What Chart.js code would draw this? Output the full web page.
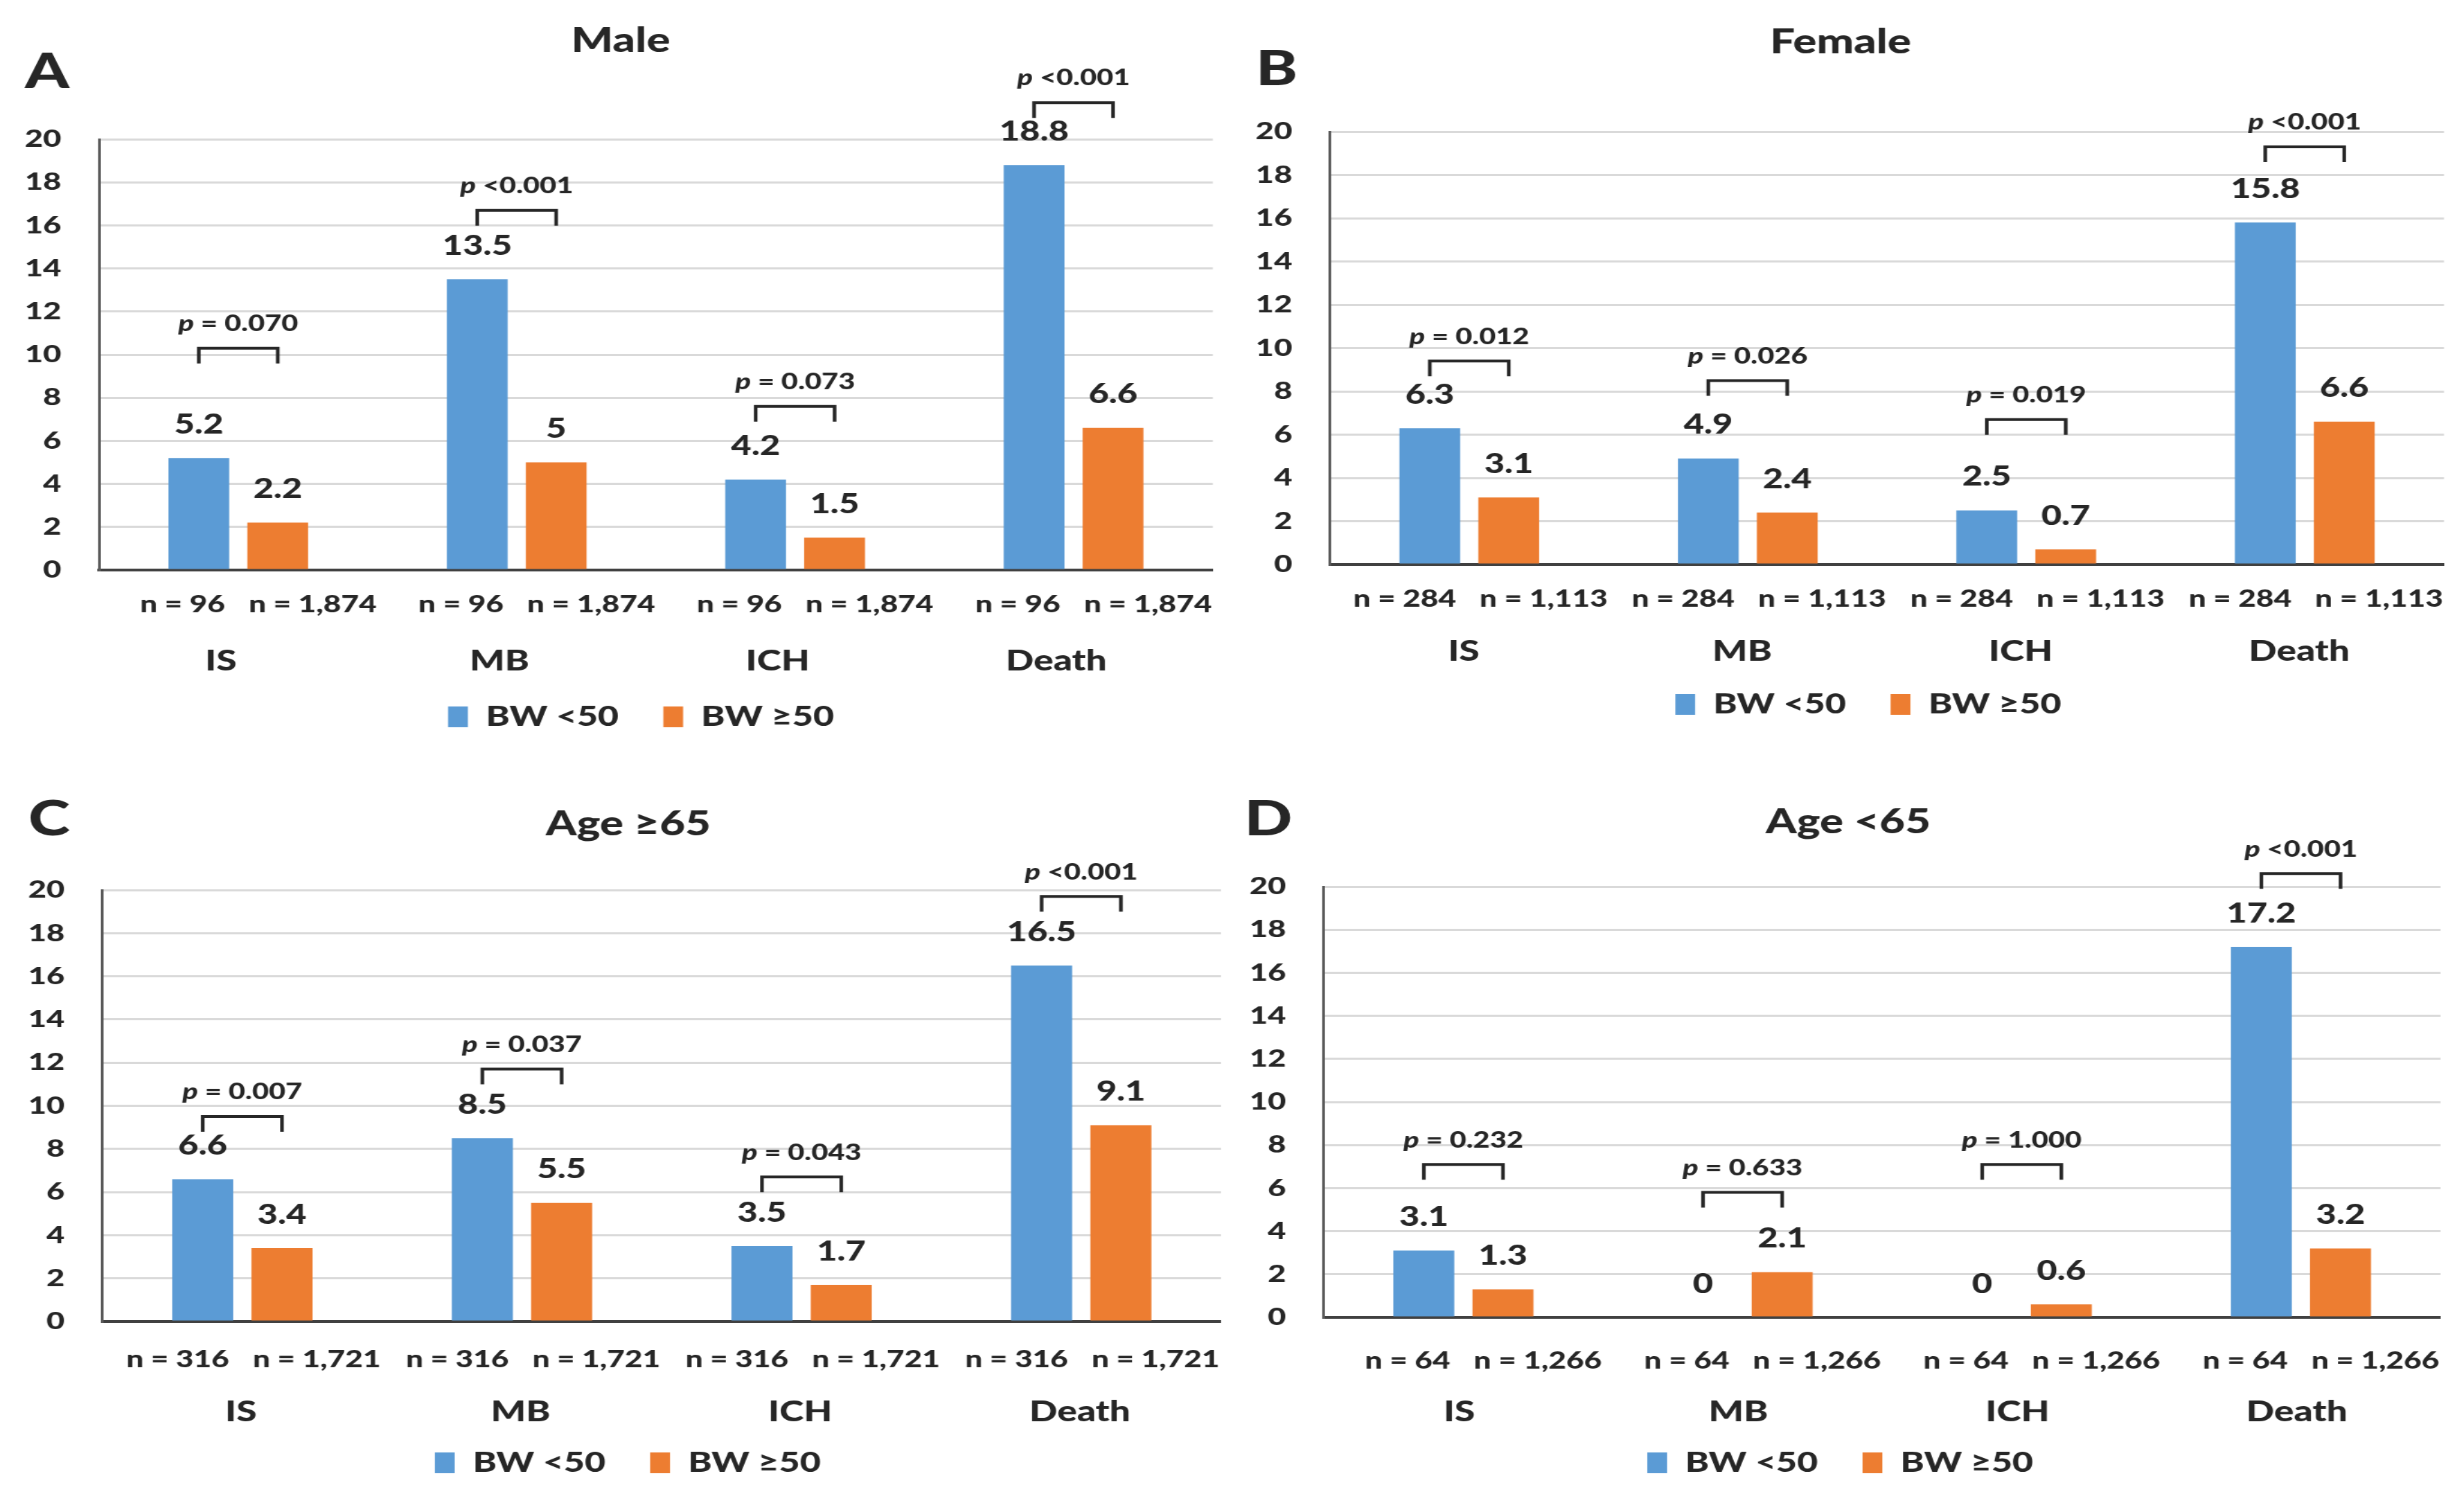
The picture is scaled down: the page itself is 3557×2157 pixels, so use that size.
<!DOCTYPE html>
<html>
<head>
<meta charset="utf-8">
<script src="https://cdn.jsdelivr.net/npm/chart.js@4.4.1/dist/chart.umd.min.js"></script>
<style>
  html, body { margin: 0; padding: 0; background: #fff; }
  #page { position: relative; width: 3557px; height: 2157px; overflow: hidden; background: #fff; }
  .panel { position: absolute; overflow: visible; }
  .panel canvas { transform-origin: 0 0; }
</style>
</head>
<body>
<div id="page"></div>
<script>
// data
const categories = ['IS', 'MB', 'ICH', 'Death'];
const seriesLabels = ['BW <50', 'BW \u226550'];

const maleLow = [5.2, 13.5, 4.2, 18.8];
const maleHigh = [2.2, 5, 1.5, 6.6];
const maleN = ['n = 96', 'n = 1,874'];
const maleP = ['= 0.070', '<0.001', '= 0.073', '<0.001'];
const maleBracket = [10.3, 16.7, 7.6, 21.7];

const femaleLow = [6.3, 4.9, 2.5, 15.8];
const femaleHigh = [3.1, 2.4, 0.7, 6.6];
const femaleN = ['n = 284', 'n = 1,113'];
const femaleP = ['= 0.012', '= 0.026', '= 0.019', '<0.001'];
const femaleBracket = [9.4, 8.5, 6.7, 19.3];

const oldLow = [6.6, 8.5, 3.5, 16.5];
const oldHigh = [3.4, 5.5, 1.7, 9.1];
const oldN = ['n = 316', 'n = 1,721'];
const oldP = ['= 0.007', '= 0.037', '= 0.043', '<0.001'];
const oldBracket = [9.5, 11.7, 6.7, 19.7];

const youngLow = [3.1, 0, 0, 17.2];
const youngHigh = [1.3, 2.1, 0.6, 3.2];
const youngN = ['n = 64', 'n = 1,266'];
const youngP = ['= 0.232', '= 0.633', '= 1.000', '<0.001'];
const youngBracket = [7.1, 5.8, 7.1, 20.6];

const yMin = 0, yMax = 20, yStep = 2;

// look
const S = 1.3; // horizontal stretch of the original figure
const FONT = 'Lato, "Open Sans", "Liberation Sans", sans-serif';
const W = '900';
const INK = '#262626';
const BLUE = '#5B9BD5';
const ORANGE = '#ED7D31';

const panels = [
  { letter: 'A', title: 'Male', low: maleLow, high: maleHigh, n: maleN, p: maleP, br: maleBracket,
    x: 0, y: 0, w: 1780, h: 1080, left: 143, right: 1751, top: 201, bottom: 823, legShift: 50, catShift: -25,
    tx: 896, ty: 59, lx: 68, ly: 104, nY: 873, catY: 955, legY: 1035 },
  { letter: 'B', title: 'Female', low: femaleLow, high: femaleHigh, n: femaleN, p: femaleP, br: femaleBracket,
    x: 1780, y: 0, w: 1777, h: 1080, left: 140, right: 1748, top: 190, bottom: 815, legShift: 43, catShift: -8,
    tx: 877, ty: 61, lx: 63, ly: 100, nY: 865, catY: 941, legY: 1017 },
  { letter: 'C', title: 'Age \u226565', low: oldLow, high: oldHigh, n: oldN, p: oldP, br: oldBracket,
    x: 0, y: 1080, w: 1780, h: 1077, left: 148, right: 1763, top: 205, bottom: 828, legShift: 25, catShift: -2,
    tx: 907, ty: 110, lx: 71, ly: 103, nY: 883, catY: 959, legY: 1032 },
  { letter: 'D', title: 'Age <65', low: youngLow, high: youngHigh, n: youngN, p: youngP, br: youngBracket,
    x: 1780, y: 1080, w: 1777, h: 1077, left: 131, right: 1743, top: 200, bottom: 822, legShift: 5, catShift: -6,
    tx: 888, ty: 107, lx: 51, ly: 103, nY: 885, catY: 959, legY: 1032 },
];

function makePanel(pn) {
  const div = document.createElement('div');
  div.className = 'panel';
  div.style.left = pn.x + 'px';
  div.style.top = pn.y + 'px';
  div.style.width = pn.w + 'px';
  div.style.height = pn.h + 'px';
  const cv = document.createElement('canvas');
  cv.width = Math.round(pn.w / S);
  cv.height = pn.h;
  cv.style.transform = 'scaleX(' + S + ')';
  div.appendChild(cv);
  document.getElementById('page').appendChild(div);

  const legFont = 40, legPad = 20;
  const padBottom = pn.h - pn.legY - 30;
  const legendTop = pn.h - padBottom - (legFont + legPad + 10);
  const xHeight = legendTop - pn.bottom;
  const yWidth = pn.left / S;

  const annot = {
    id: 'annot' + pn.letter,
    afterLayout(chart) {
      // the legend sits a little right of the canvas middle in the original
      const dx = pn.legShift / S;
      chart.legend.left += dx;
      chart.legend.right += dx;
    },
    afterDraw(chart) {
      const ctx = chart.ctx;
      const xs = chart.scales.x;
      const ys = chart.scales.y;
      const m0 = chart.getDatasetMeta(0).data;
      const m1 = chart.getDatasetMeta(1).data;
      const vals = [pn.low, pn.high];
      ctx.save();
      ctx.fillStyle = INK;
      ctx.strokeStyle = INK;
      ctx.textAlign = 'center';
      ctx.textBaseline = 'middle';

      // panel letter and title
      ctx.font = '900 70px ' + FONT;
      ctx.fillText(pn.letter, pn.lx / S, pn.ly);
      ctx.font = W + ' 49px ' + FONT;
      ctx.fillText(pn.title, pn.tx / S, pn.ty);

      // value labels
      ctx.font = W + ' 39px ' + FONT;
      [m0, m1].forEach((bars, d) => {
        bars.forEach((bar, i) => {
          ctx.fillText(String(vals[d][i]), bar.x, bar.y - 48);
        });
      });

      // group sizes under each pair
      ctx.font = W + ' 34px ' + FONT;
      categories.forEach((c, i) => {
        const cx = xs.getPixelForValue(i);
        ctx.textAlign = 'right';
        ctx.fillText(pn.n[0], cx - 19 / S, pn.nY);
        ctx.textAlign = 'left';
        ctx.fillText(pn.n[1], cx + 15 / S, pn.nY);
      });
      ctx.textAlign = 'center';

      // p-value brackets
      categories.forEach((c, i) => {
        const x0 = m0[i].x, x1 = m1[i].x;
        const yb = ys.getPixelForValue(pn.br[i]);
        ctx.lineWidth = 4;
        ctx.beginPath();
        ctx.moveTo(x0, yb + 22);
        ctx.lineTo(x0, yb);
        ctx.lineTo(x1, yb);
        ctx.lineTo(x1, yb + 22);
        ctx.stroke();
        const fi = 'italic ' + W + ' 32px ' + FONT;
        const fr = W + ' 32px ' + FONT;
        const rest = ' ' + pn.p[i];
        ctx.font = fi; const wp = ctx.measureText('p').width;
        ctx.font = fr; const wr = ctx.measureText(rest).width;
        const xt = (x0 + x1) / 2 - (wp + wr) / 2;
        const yt = yb - 35;
        ctx.textAlign = 'left';
        ctx.font = fi; ctx.fillText('p', xt, yt);
        ctx.font = fr; ctx.fillText(rest, xt + wp, yt);
        ctx.textAlign = 'center';
      });
      ctx.restore();
    }
  };

  new Chart(cv, {
    type: 'bar',
    data: {
      labels: categories,
      datasets: [
        { label: seriesLabels[0], data: pn.low, backgroundColor: BLUE, borderWidth: 0 },
        { label: seriesLabels[1], data: pn.high, backgroundColor: ORANGE, borderWidth: 0 },
      ],
    },
    options: {
      responsive: false,
      animation: false,
      devicePixelRatio: 1,
      categoryPercentage: 0.567,
      barPercentage: 0.77,
      layout: {
        padding: { top: pn.top, left: 0, right: (pn.w - pn.right) / S, bottom: padBottom },
      },
      plugins: {
        tooltip: { enabled: false },
        title: { display: false },
        legend: {
          position: 'bottom',
          labels: {
            boxWidth: 22, boxHeight: 30, padding: legPad, color: INK,
            font: { family: FONT, size: legFont, weight: W },
            generateLabels: (chart) => {
              const items = Chart.defaults.plugins.legend.labels.generateLabels(chart);
              items[0].text += '\u2002 ';
              return items;
            },
          },
        },
      },
      scales: {
        x: {
          grid: { display: false, drawTicks: false },
          border: { display: true, color: '#404040', width: 4 },
          ticks: {
            color: INK, padding: pn.catY - pn.bottom - 25, labelOffset: pn.catShift / S,
            font: { family: FONT, size: 41, weight: W },
          },
          afterFit: (s) => { s.height = xHeight; },
        },
        y: {
          min: yMin, max: yMax,
          grid: { color: '#d9d9d9', lineWidth: 3, drawTicks: false },
          border: { display: true, color: '#595959', width: 3 },
          ticks: { stepSize: yStep, color: INK, padding: 42, font: { family: FONT, size: 35, weight: W } },
          afterFit: (s) => { s.width = yWidth; },
        },
      },
    },
    plugins: [annot],
  });
}

panels.forEach(makePanel);
</script>
</body>
</html>
